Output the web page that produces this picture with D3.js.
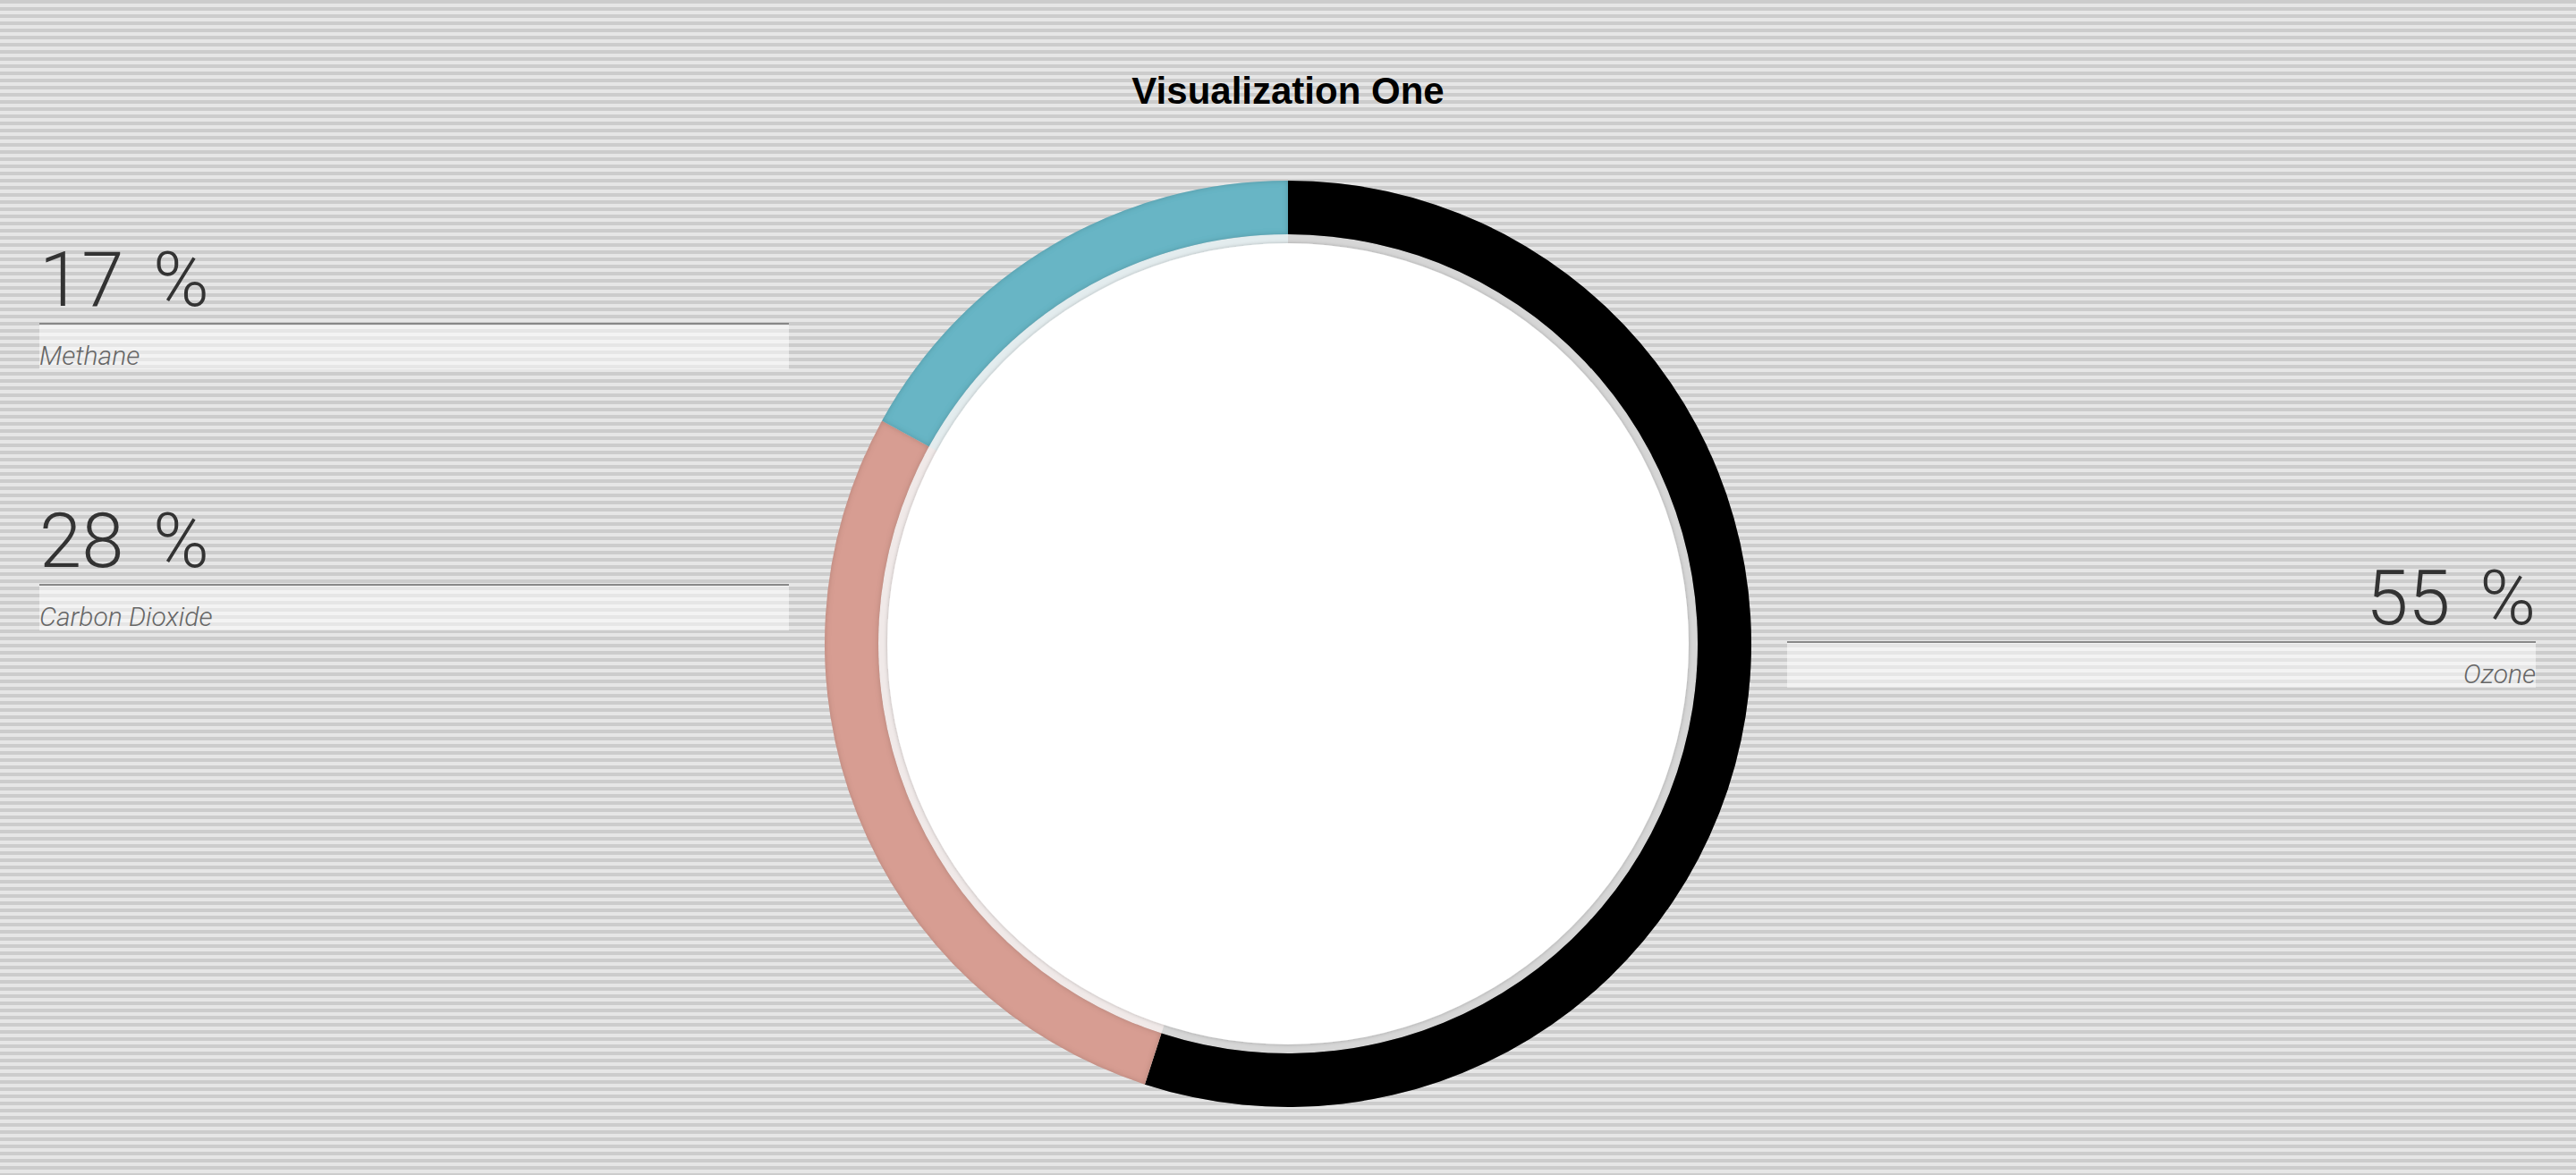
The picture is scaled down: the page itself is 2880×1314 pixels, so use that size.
<!DOCTYPE html>
<html>
<head>
<meta charset="utf-8">
<script src="https://cdn.jsdelivr.net/npm/d3@7"></script>
<style>
  html, body { margin: 0; padding: 0; }
  body {
    width: 2880px; height: 1314px; overflow: hidden;
    background: repeating-linear-gradient(to bottom, #cccccc 0px, #cccccc 4px, #e6e6e6 4px, #e6e6e6 8px);
  }
  svg { display: block; }
  .title { font-family: "Liberation Sans", Arial, sans-serif; font-weight: bold; font-size: 42px; fill: #000; }
  .value { font-family: Roboto, "Noto Sans", sans-serif; font-weight: 300; font-size: 85px; fill: #333; word-spacing: 12px; }
  .name { font-family: Roboto, "Noto Sans", sans-serif; font-weight: 300; font-style: italic; font-size: 30px; fill: #666; }
</style>
</head>
<body>
<div id="chart"></div>
<script>
// Daten
const names = ['Ozone', 'Carbon Dioxide', 'Methane'];
const values = [55, 28, 17];
const colors = ['#000000', '#d79d92', '#68b5c5'];

const width = 2880, height = 1314;
const cx = 1440, cy = 720;
const outerR = 518, ringR = 458, whiteR = 448;

// Label-Positionen (Layout)
const labelLayout = {
  'Methane':        { x: 44,   y: 362, w: 838, align: 'start' },
  'Carbon Dioxide': { x: 44,   y: 654, w: 838, align: 'start' },
  'Ozone':          { x: 1998, y: 718, w: 837, align: 'end' }
};

const svg = d3.select('#chart').append('svg')
  .attr('width', width)
  .attr('height', height);

const defs = svg.append('defs');

// Innerer Schatten für die Segmente
const inner = defs.append('filter').attr('id', 'inner')
  .attr('x', '-10%').attr('y', '-10%').attr('width', '120%').attr('height', '120%');
inner.append('feFlood').attr('flood-color', '#000').attr('flood-opacity', 0.35).attr('result', 'c');
inner.append('feComposite').attr('in', 'c').attr('in2', 'SourceAlpha').attr('operator', 'out').attr('result', 'inv');
inner.append('feGaussianBlur').attr('in', 'inv').attr('stdDeviation', 3).attr('result', 'blur');
inner.append('feComposite').attr('in', 'blur').attr('in2', 'SourceAlpha').attr('operator', 'in').attr('result', 'shadow');
const im = inner.append('feMerge');
im.append('feMergeNode').attr('in', 'SourceGraphic');
im.append('feMergeNode').attr('in', 'shadow');

// Schatten für den weissen Kreis
const drop = defs.append('filter').attr('id', 'drop')
  .attr('x', '-10%').attr('y', '-10%').attr('width', '120%').attr('height', '120%');
drop.append('feDropShadow').attr('dx', 0).attr('dy', 0).attr('stdDeviation', 2)
  .attr('flood-color', '#000').attr('flood-opacity', 0.25);

// Titel
svg.append('text')
  .attr('class', 'title')
  .attr('x', cx)
  .attr('y', 116)
  .attr('text-anchor', 'middle')
  .text('Visualization One');

const data = names.map((n, i) => ({ name: n, value: values[i], color: colors[i] }));

const pie = d3.pie().sort(null).value(d => d.value);
const arcs = pie(data);

const ring = d3.arc().innerRadius(ringR).outerRadius(outerR);
const band = d3.arc().innerRadius(whiteR - 2).outerRadius(ringR);

const g = svg.append('g').attr('transform', `translate(${cx},${cy})`);

// Grundfläche für das helle Band
g.append('circle').attr('r', ringR).attr('fill', '#f4f4f4');

g.append('g').selectAll('path')
  .data(arcs)
  .enter().append('path')
  .attr('d', band)
  .attr('fill', d => d.data.color)
  .attr('fill-opacity', 0.12);

g.append('g').selectAll('path')
  .data(arcs)
  .enter().append('path')
  .attr('d', ring)
  .attr('fill', d => d.data.color)
  .attr('filter', 'url(#inner)');

g.append('circle')
  .attr('r', whiteR)
  .attr('fill', '#ffffff')
  .attr('filter', 'url(#drop)');

// Labels
const labels = svg.append('g').selectAll('g')
  .data(data)
  .enter().append('g')
  .attr('transform', d => `translate(${labelLayout[d.name].x},${labelLayout[d.name].y})`);

labels.append('rect')
  .attr('x', 0)
  .attr('y', 1)
  .attr('width', d => labelLayout[d.name].w)
  .attr('height', 50)
  .attr('fill', '#ffffff')
  .attr('fill-opacity', 0.5);

labels.append('line')
  .attr('x1', 0)
  .attr('x2', d => labelLayout[d.name].w)
  .attr('y1', 0)
  .attr('y2', 0)
  .attr('stroke', '#888')
  .attr('stroke-width', 2);

labels.append('text')
  .attr('class', 'value')
  .attr('x', d => labelLayout[d.name].align === 'end' ? labelLayout[d.name].w : 0)
  .attr('y', -20)
  .attr('text-anchor', d => labelLayout[d.name].align)
  .text(d => `${d.value} %`);

labels.append('text')
  .attr('class', 'name')
  .attr('x', d => labelLayout[d.name].align === 'end' ? labelLayout[d.name].w : 0)
  .attr('y', 46)
  .attr('text-anchor', d => labelLayout[d.name].align)
  .text(d => d.name);
</script>
</body>
</html>
